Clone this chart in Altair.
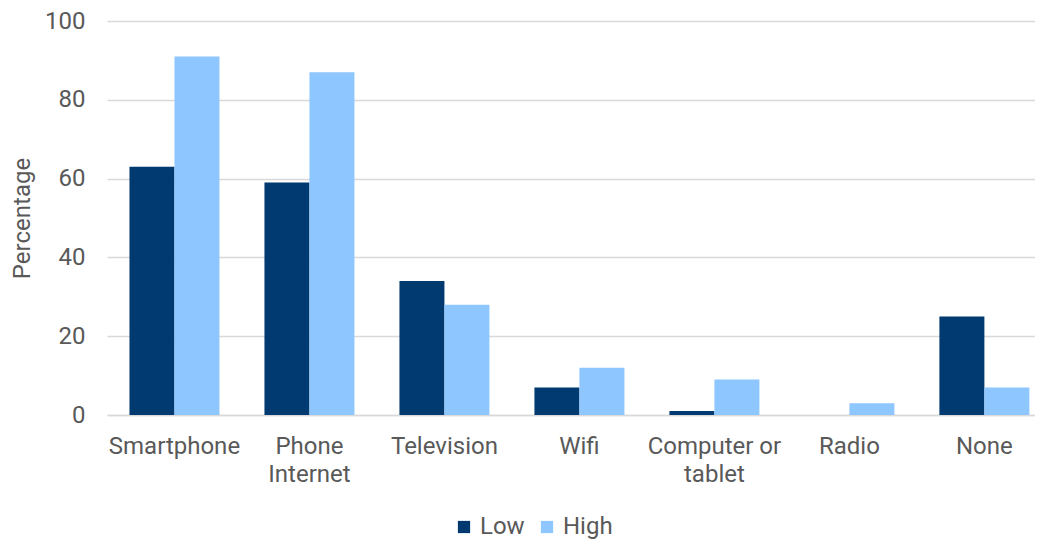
import altair as alt
import pandas as pd

categories = ["Smartphone", "Phone\nInternet", "Television", "Wifi", "Computer or\ntablet", "Radio", "None"]
low_values = [63, 59, 34, 7, 1, 0, 25]
high_values = [91, 87, 28, 12, 9, 3, 7]
series = ["Low", "High"]
colors = ["#003A70", "#8EC6FF"]
y_ticks = [0, 20, 40, 60, 80, 100]

rows = []
for c, lo, hi in zip(categories, low_values, high_values):
    rows.append({"category": c, "group": "Low", "value": lo})
    rows.append({"category": c, "group": "High", "value": hi})
df = pd.DataFrame(rows)

FONT = "Roboto"
GRAY = "#595959"
FS = 24

chart = alt.Chart(df).mark_bar().encode(
    x=alt.X("category:N", sort=categories,
            scale=alt.Scale(paddingInner=1/3, paddingOuter=0.104, align=0.8),
            axis=alt.Axis(title=None, labelAngle=0, labelExpr="split(datum.label, '\\n')",
                          labelFontSize=FS, labelColor=GRAY, labelFont=FONT,
                          labelPadding=19, labelLineHeight=28, ticks=False,
                          domainColor="#d9d9d9", domainWidth=1.5, grid=False)),
    xOffset=alt.XOffset("group:N", sort=series, scale=alt.Scale(paddingInner=0, paddingOuter=0)),
    y=alt.Y("value:Q", scale=alt.Scale(domain=[0, 100], nice=False),
            axis=alt.Axis(title="Percentage", values=y_ticks, labelFontSize=FS, labelColor=GRAY,
                          labelFont=FONT, titleFont=FONT, titleFontSize=FS, titleColor=GRAY,
                          titleFontWeight="normal", labelPadding=22, titlePadding=10,
                          ticks=False, domain=False, gridColor="#d9d9d9", gridWidth=1.5)),
    color=alt.Color("group:N", sort=series,
                    scale=alt.Scale(domain=series, range=colors),
                    legend=alt.Legend(title=None, orient="none", direction="horizontal",
                                      legendX=345, legendY=494,
                                      symbolType="square", symbolSize=150, symbolStrokeWidth=0,
                                      labelFontSize=FS, labelFont=FONT, labelColor=GRAY,
                                      columnPadding=10, labelOffset=4)),
).properties(
    width=928, height=394,
    padding={"left": 2, "top": 1, "right": 0, "bottom": 0},
).configure_view(stroke=None)

chart.save("out.html", embed_options={"renderer": "svg", "actions": False})
